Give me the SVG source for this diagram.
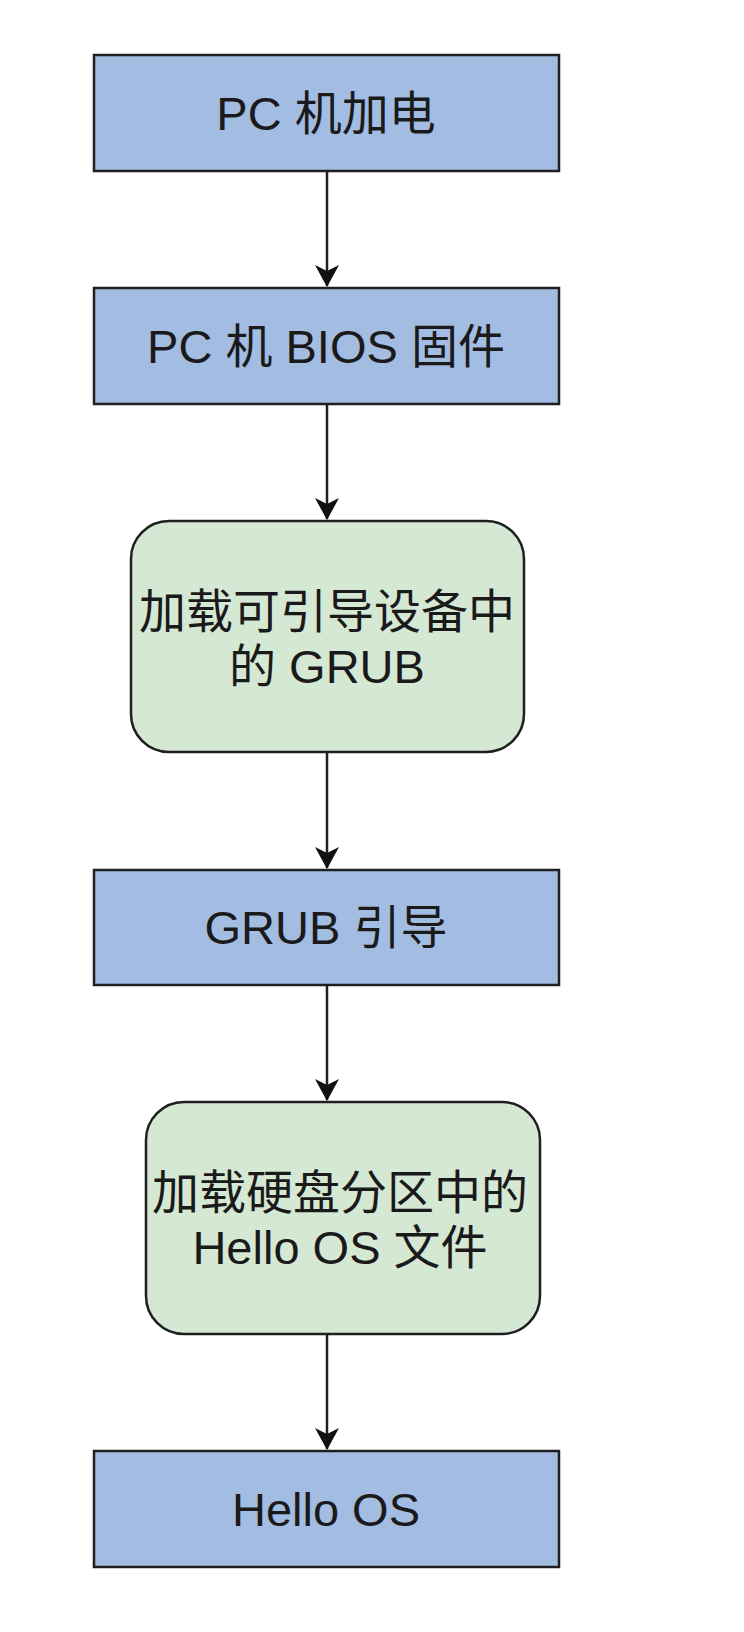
<svg xmlns="http://www.w3.org/2000/svg" width="744" height="1632" viewBox="0 0 744 1632">
<style>
.b{fill:#A3BCE2;stroke:#1f1f1f;stroke-width:2.5}
.g{fill:#D5E8D4;stroke:#1f1f1f;stroke-width:2.5}
.t{font-family:"Liberation Sans","Noto Sans CJK SC",sans-serif;font-size:47px;fill:#1a1a1a;text-anchor:middle}
.c{stroke:#1f1f1f;stroke-width:2.5;fill:none}
</style>
<defs>
<marker id="ah" viewBox="0 0 12 12" refX="11" refY="6" markerWidth="12" markerHeight="12" markerUnits="userSpaceOnUse" orient="auto" overflow="visible">
<path d="M12,6 L-10,-6 L-4,6 L-10,18 Z" fill="#111"/>
</marker>
</defs>
<rect width="744" height="1632" fill="#ffffff"/>
<g id="connectors">
<path class="c" d="M327,171 V286" marker-end="url(#ah)"/>
<path class="c" d="M327,404 V519" marker-end="url(#ah)"/>
<path class="c" d="M327,752 V868" marker-end="url(#ah)"/>
<path class="c" d="M327,985 V1100" marker-end="url(#ah)"/>
<path class="c" d="M327,1334 V1449" marker-end="url(#ah)"/>
</g>
<g id="n1"><rect class="b" x="94" y="55" width="465" height="116"/><text class="t" x="326" y="130">PC 机加电</text></g>
<g id="n2"><rect class="b" x="94" y="288" width="465" height="116"/><text class="t" x="326" y="363">PC 机 BIOS 固件</text></g>
<g id="n3"><rect class="g" x="131" y="521" width="393" height="231" rx="38" ry="38"/><text class="t" x="327" y="628">加载可引导设备中</text><text class="t" x="327" y="683">的 GRUB</text></g>
<g id="n4"><rect class="b" x="94" y="870" width="465" height="115"/><text class="t" x="326" y="944">GRUB 引导</text></g>
<g id="n5"><rect class="g" x="146" y="1102" width="394" height="232" rx="38" ry="38"/><text class="t" x="340" y="1209">加载硬盘分区中的</text><text class="t" x="340" y="1264">Hello OS 文件</text></g>
<g id="n6"><rect class="b" x="94" y="1451" width="465" height="116"/><text class="t" x="326" y="1526">Hello OS</text></g>
</svg>
